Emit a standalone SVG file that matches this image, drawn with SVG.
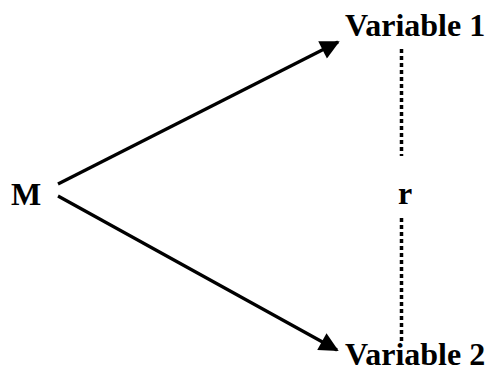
<svg xmlns="http://www.w3.org/2000/svg" width="491" height="372" viewBox="0 0 491 372">
<style>
.t{font-family:"Liberation Serif","Times New Roman",serif;font-weight:bold;font-size:32px;fill:#000}
.a{stroke:#000;stroke-width:3.2;fill:none}
.d{stroke:#000;stroke-width:3.5;stroke-dasharray:4 3;fill:none}
</style>
<defs>
<marker id="ah" viewBox="0 0 10 10" refX="9" refY="5" markerWidth="7" markerHeight="6" orient="auto" markerUnits="strokeWidth">
<path d="M0,0 L10,5 L0,10 z" fill="#000"/>
</marker>
</defs>
<g id="connectors">
<line class="a" x1="58" y1="184" x2="338" y2="42" marker-end="url(#ah)"/>
<line class="a" x1="58" y1="196" x2="337" y2="350" marker-end="url(#ah)"/>
<line class="d" x1="401.5" y1="49" x2="401.5" y2="156"/>
<line class="d" x1="401.5" y1="218" x2="401.5" y2="344"/>
</g>
<g id="M"><text class="t" x="11" y="205">M</text></g>
<g id="var1"><text class="t" x="345" y="36">Variable 1</text></g>
<g id="r"><text class="t" x="398" y="204">r</text></g>
<g id="var2"><text class="t" x="345" y="365">Variable 2</text></g>
</svg>
